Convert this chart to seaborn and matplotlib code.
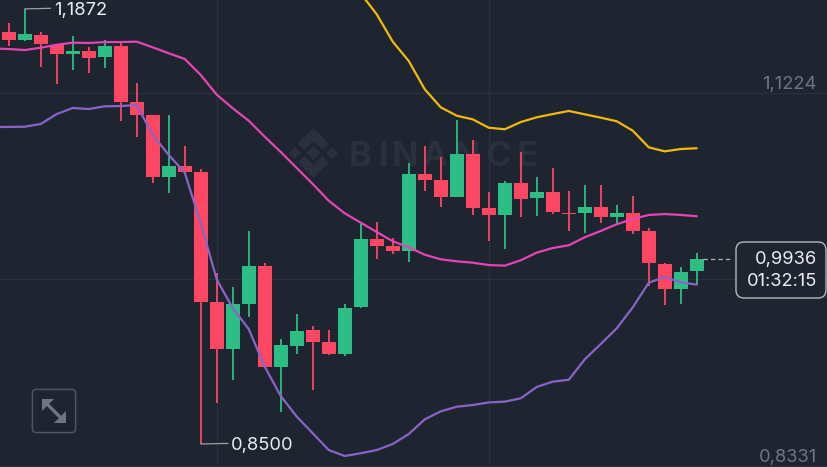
import numpy as np
import pandas as pd
import matplotlib
matplotlib.use("Agg")
import matplotlib.pyplot as plt
from matplotlib.patches import FancyBboxPatch, Polygon
import seaborn as sns

# candles, oldest first
opens = [1.1691, 1.1633, 1.1672, 1.1592, 1.1522, 1.1548, 1.1497, 1.1582, 1.1150, 1.1047, 1.0567,
         1.0652, 1.0606, 0.9598, 0.9236, 0.9585, 0.9882, 0.9099, 0.9262, 0.9381, 0.9293, 0.9200,
         0.9562, 1.0086, 1.0034, 0.9998, 1.0592, 1.0544, 1.0414, 1.0745, 1.0327, 1.0272, 1.0520,
         1.0404, 1.0451, 1.0290, 1.0293, 1.0337, 1.0261, 1.0290, 1.0148, 0.9897, 0.9701, 0.9841]
closes = [1.1633, 1.1675, 1.1600, 1.1522, 1.1548, 1.1494, 1.1582, 1.1153, 1.1050, 1.0567, 1.0652,
          1.0606, 0.9598, 0.9236, 0.9585, 0.9882, 0.9094, 0.9265, 0.9378, 0.9290, 0.9197, 0.9556,
          1.0086, 1.0037, 0.9993, 1.0592, 1.0544, 1.0414, 1.0745, 1.0329, 1.0272, 1.0520, 1.0401,
          1.0451, 1.0296, 1.0280, 1.0337, 1.0261, 1.0290, 1.0151, 0.9900, 0.9701, 0.9835, 0.9936]
highs = [1.1760, 1.1872, 1.1691, 1.1596, 1.1662, 1.1579, 1.1631, 1.1610, 1.1295, 1.1050, 1.1050,
         1.0812, 1.0629, 0.9823, 0.9714, 1.0153, 0.9900, 0.9314, 0.9507, 0.9414, 0.9386, 0.9587,
         1.0205, 1.0218, 1.0094, 1.0680, 1.0812, 1.0726, 1.1011, 1.0856, 1.0451, 1.0538, 1.0765,
         1.0567, 1.0639, 1.0461, 1.0505, 1.0510, 1.0350, 1.0420, 1.0174, 0.9900, 0.9874, 0.9983]
lows = [1.1584, 1.1625, 1.1424, 1.1288, 1.1396, 1.1378, 1.1416, 1.1005, 1.0877, 1.0523, 1.0443,
        1.0603, 0.8500, 0.8820, 0.8996, 0.9487, 0.9093, 0.8746, 0.9197, 0.8918, 0.9187, 0.9184,
        0.9552, 0.9936, 0.9975, 0.9913, 1.0463, 1.0339, 1.0414, 1.0272, 1.0076, 1.0011, 1.0261,
        1.0265, 1.0282, 1.0153, 1.0133, 1.0210, 1.0195, 1.0131, 0.9727, 0.9577, 0.9585, 0.9730]

# bollinger lines, these start one candle before the first visible one
mid_band = [1.1565, 1.1561, 1.1553, 1.1571, 1.1594, 1.1610, 1.1608, 1.1615, 1.1615, 1.1618, 1.1574,
            1.1528, 1.1484, 1.1360, 1.1207, 1.1102, 1.1005, 1.0881, 1.0763, 1.0639, 1.0515, 1.0385,
            1.0288, 1.0215, 1.0143, 1.0071, 1.0024, 0.9967, 0.9931, 0.9916, 0.9905, 0.9887, 0.9882,
            0.9924, 0.9983, 1.0019, 1.0040, 1.0102, 1.0151, 1.0203, 1.0244, 1.0275, 1.0282, 1.0275,
            1.0265]
low_band = [1.0957, 1.0957, 1.0959, 1.0980, 1.1057, 1.1104, 1.1096, 1.1117, 1.1119, 1.1127, 1.0895,
            1.0740, 1.0604, 1.0210, 0.9776, 0.9552, 0.9391, 0.9099, 0.8872, 0.8712, 0.8583, 0.8453,
            0.8407, 0.8428, 0.8453, 0.8500, 0.8577, 0.8691, 0.8753, 0.8789, 0.8802, 0.8822, 0.8828,
            0.8854, 0.8942, 0.8983, 0.8998, 0.9156, 0.9275, 0.9397, 0.9559, 0.9750, 0.9794, 0.9753,
            0.9735]
# upper band only shows from candle 22 on
up_band = [1.1991, 1.1830, 1.1618, 1.1468, 1.1249, 1.1109, 1.1044, 1.1016, 1.0951, 1.0939, 1.0995,
           1.1032, 1.1057, 1.1081, 1.1055, 1.1029, 1.1001, 1.0928, 1.0799, 1.0768, 1.0786, 1.0792]

grid_prices = [1.1224, 0.9778, 0.8331]
grid_candles = [13, 30]
grid_labels = ["1,1224", "0,9778", "0,8331"]
last_price = "0,9936"
countdown = "01:32:15"

BG = "#1f2530"
GREEN = "#2ebd85"
RED = "#ff4761"
GRID = "#2c323d"
WHITE = "#eaecef"
GREY = "#6e7582"
FS = 13.2

sns.set_theme(style="dark", rc={
    "figure.facecolor": BG, "axes.facecolor": BG, "grid.color": GRID,
    "axes.grid": True, "grid.linewidth": 0.9, "axes.linewidth": 0,
})
plt.rcParams["font.family"] = ["Inter", "DejaVu Sans"]

fig = plt.figure(figsize=(8.28, 4.67), dpi=100)
ax = fig.add_axes([0, 0, 1, 1])
ax.set_axisbelow(True)

candles = pd.DataFrame({"open": opens, "close": closes, "high": highs, "low": lows})
candles["i"] = candles.index
candles["color"] = np.where(candles["close"] >= candles["open"], GREEN, RED)

# wicks then bodies
ax.vlines(candles["i"], candles["low"], candles["high"], colors=candles["color"], lw=1.3, zorder=3)
ax.bar(candles["i"], (candles["close"] - candles["open"]).abs(), bottom=candles[["open", "close"]].min(axis=1),
       width=0.875, color=candles["color"], lw=0, zorder=4)

bands = pd.concat([
    pd.DataFrame({"i": np.arange(-1, 44), "price": mid_band, "band": "mid"}),
    pd.DataFrame({"i": np.arange(-1, 44), "price": low_band, "band": "low"}),
    pd.DataFrame({"i": np.arange(22, 44), "price": up_band, "band": "up"}),
])
sns.lineplot(data=bands, x="i", y="price", hue="band", estimator=None, ax=ax, legend=False, lw=1.6, zorder=5,
             palette={"mid": "#e545b4", "low": "#8b63c8", "up": "#f0b90b"})

ax.set_xlim(-0.544, 51.2)
ax.set_ylim(0.83216, 1.19409)
ax.set_xticks(grid_candles)
ax.set_yticks(grid_prices)
ax.tick_params(length=0, labelbottom=False, labelleft=False)
ax.set_xlabel("")
ax.set_ylabel("")

# price scale labels sit just above their grid line
for price, label in zip(grid_prices, grid_labels):
    # middle one is almost hidden behind the callout
    col = "#343a45" if label == "0,9778" else GREY
    ax.annotate(label, (0.9867, price), xycoords=ax.get_yaxis_transform(), xytext=(0, 6),
                textcoords="offset points", ha="right", va="center", color=col, fontsize=FS, zorder=1)

# high / low markers
ax.annotate("1,1872", (1, 1.1872), xytext=(21, -1), textcoords="offset points", va="center", color=WHITE, fontsize=FS,
            arrowprops=dict(arrowstyle="-", color="#9aa0a8", lw=0.9, shrinkA=0, shrinkB=0, relpos=(0, 0.62)), zorder=6)
ax.annotate("0,8500", (12, 0.8500), xytext=(22, -1), textcoords="offset points", va="center", color=WHITE, fontsize=FS,
            arrowprops=dict(arrowstyle="-", color="#9aa0a8", lw=0.9, shrinkA=0, shrinkB=0, relpos=(0, 0.62)), zorder=6)

# everything below is screen furniture, so use a pixel overlay
ov = fig.add_axes([0, 0, 1, 1], zorder=-1)
ov.set_xlim(0, 828)
ov.set_ylim(467, 0)
ov.axis("off")
ov.patch.set_alpha(0)
ax.set_zorder(1)
ax.patch.set_alpha(0)
fig.patch.set_facecolor(BG)

# watermark
LOGO = "#2b313c"
for pts in [
    [(295, 147), (301, 153), (295, 159), (289, 153)],
    [(332, 147), (338, 153), (332, 159), (326, 153)],
    [(313.5, 146), (320.5, 153), (313.5, 160), (306.5, 153)],
    [(313.5, 128), (329, 143.5), (322.5, 150), (313.5, 141), (304.5, 150), (298, 143.5)],
    [(313.5, 178), (329, 162.5), (322.5, 156), (313.5, 165), (304.5, 156), (298, 162.5)],
]:
    ov.add_patch(Polygon(pts, closed=True, fc=LOGO, ec="none"))
for ch, px in zip("BINANCE", [349, 379, 392, 421, 454, 485, 517]):
    ov.text(px, 153, ch, color=LOGO, fontsize=25, fontweight="bold", ha="left", va="center_baseline")

# expand button
ov2 = fig.add_axes([0, 0, 1, 1], zorder=3)
ov2.set_xlim(0, 828)
ov2.set_ylim(467, 0)
ov2.axis("off")
ov2.patch.set_alpha(0)
ov2.add_patch(FancyBboxPatch((36, 393), 36, 36, boxstyle="round,pad=3.6,rounding_size=4",
                             fc="none", ec="#4e5561", lw=1.1))
ICON = "#6f7582"
ov2.add_patch(Polygon([(42, 399), (54, 399), (42, 411)], closed=True, fc=ICON, ec="none"))
ov2.add_patch(Polygon([(66, 423), (54, 423), (66, 411)], closed=True, fc=ICON, ec="none"))
ov2.plot([46, 62], [403, 419], color=ICON, lw=2.4, solid_capstyle="butt")

# last price dashes and callout
ov2.plot([703, 733], [259, 259], color="#b4b8be", lw=0.9, ls=(0, (3.4, 2.6)))
ov2.add_patch(FancyBboxPatch((743, 249), 76, 42, boxstyle="round,pad=7,rounding_size=8",
                             fc=BG, alpha=0.82, ec="none"))
ov2.add_patch(FancyBboxPatch((743, 249), 76, 42, boxstyle="round,pad=7,rounding_size=8",
                             fc="none", ec="#b4b8be", lw=1.0))
ov2.text(817, 259.5, last_price, color=WHITE, fontsize=FS, ha="right", va="center")
ov2.text(817, 281.5, countdown, color=WHITE, fontsize=FS, ha="right", va="center")

fig.savefig("out.png", dpi=100, facecolor=BG)
